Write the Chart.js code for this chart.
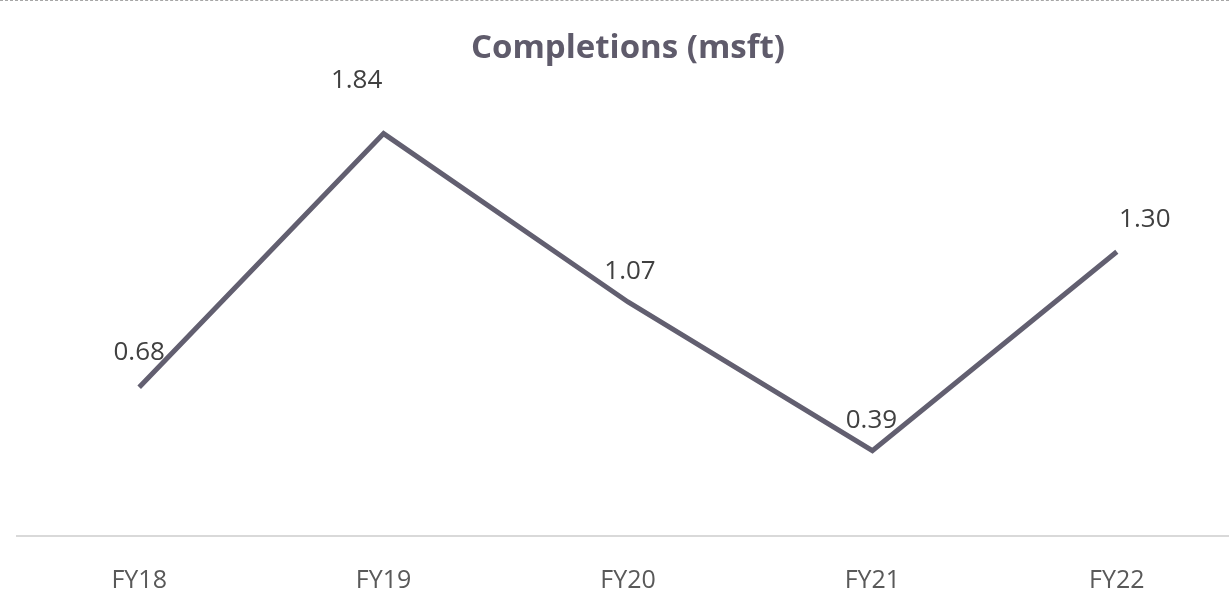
<!DOCTYPE html>
<html lang="en">
<head>
  <meta charset="UTF-8">
  <title>Completions (msft)</title>
  <style>
    html, body { margin: 0; padding: 0; background: #fff; overflow: hidden; }
    #wrap { width: 1229px; height: 597px; overflow: hidden; border-top: 1px dashed #a6a6a6; box-sizing: border-box; }
  </style>
</head>
<body>
  <div id="wrap">
    <canvas id="completionsChart" width="1240" height="629"></canvas>
  </div>

  <script src="https://cdn.jsdelivr.net/npm/chart.js"></script>
  <script>
    const years = ['FY18', 'FY19', 'FY20', 'FY21', 'FY22'];
    const completions = [0.68, 1.84, 1.07, 0.39, 1.30];
    const valueLabels = ['0.68', '1.84', '1.07', '0.39', '1.30'];

    // label nudges (px) relative to each point
    const labelShift = [[0, -35], [-27, -53], [2, -30], [-1, -30], [28, -32]];

    const pointLabels = {
      id: 'pointLabels',
      afterDatasetsDraw(chart) {
        const ctx = chart.ctx;
        const meta = chart.getDatasetMeta(0);
        ctx.save();
        ctx.font = '26px "Open Sans", sans-serif';
        ctx.fillStyle = '#404040';
        ctx.textAlign = 'center';
        ctx.textBaseline = 'middle';
        meta.data.forEach((pt, i) => {
          ctx.fillText(valueLabels[i], pt.x + labelShift[i][0], pt.y + labelShift[i][1]);
        });
        ctx.restore();
      }
    };

    const ctx = document.getElementById('completionsChart').getContext('2d');
    new Chart(ctx, {
      type: 'line',
      data: {
        labels: years,
        datasets: [{
          data: completions,
          borderColor: '#625f70',
          borderWidth: 5,
          pointRadius: 0,
          tension: 0,
          clip: false
        }]
      },
      options: {
        responsive: false,
        animation: false,
        devicePixelRatio: 1,
        layout: { padding: { left: 17, right: 1, top: 0, bottom: 12 } },
        scales: {
          x: {
            offset: true,
            grid: { display: false },
            border: { display: true, color: '#d9d9d9', width: 2 },
            ticks: { color: '#595959', font: { family: 'Open Sans', size: 25 }, padding: 22 }
          },
          y: {
            display: false,
            min: 0,
            max: 2
          }
        },
        plugins: {
          legend: { display: false },
          tooltip: { enabled: false },
          title: {
            display: true,
            text: 'Completions (msft)',
            color: '#5f5b6b',
            font: { family: 'Open Sans', size: 33, weight: 'bold' },
            padding: { top: 28, bottom: 30 }
          }
        }
      },
      plugins: [pointLabels]
    });
  </script>
</body>
</html>
